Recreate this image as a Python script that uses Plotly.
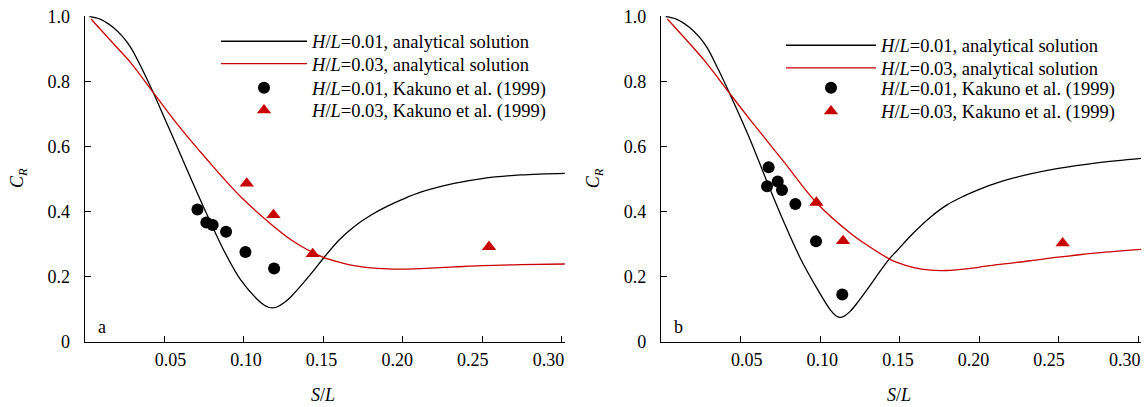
import plotly.graph_objects as go

# ---------------- data ----------------
# panel a
a_x_h01 = [0.003, 0.010, 0.018, 0.024, 0.029, 0.035, 0.0426, 0.050, 0.0562, 0.0667, 0.0772, 0.0876,
           0.0981, 0.1086, 0.113, 0.1155, 0.118, 0.1205, 0.126, 0.130, 0.137, 0.1442, 0.1505, 0.160,
           0.1694, 0.1799, 0.1904, 0.1998, 0.2113, 0.2323, 0.2499, 0.2742, 0.302]
a_y_h01 = [1.000, 0.992, 0.967, 0.938, 0.905, 0.850, 0.772, 0.690, 0.621, 0.503, 0.388, 0.280,
           0.190, 0.130, 0.112, 0.106, 0.104, 0.106, 0.122, 0.140, 0.178, 0.220, 0.259, 0.313,
           0.354, 0.389, 0.417, 0.438, 0.460, 0.487, 0.502, 0.513, 0.518]
a_x_h03 = [0.004, 0.0184, 0.029, 0.0426, 0.0562, 0.0772, 0.0981, 0.1191, 0.1300, 0.1401, 0.1505,
           0.1600, 0.1694, 0.1799, 0.1904, 0.2010, 0.2113, 0.2323, 0.2499, 0.2742, 0.302]
a_y_h03 = [0.993, 0.915, 0.858, 0.770, 0.682, 0.559, 0.446, 0.354, 0.313, 0.283, 0.259,
           0.245, 0.234, 0.227, 0.224, 0.2235, 0.225, 0.230, 0.234, 0.237, 0.239]
a_exp_x_h01 = [0.0709, 0.0765, 0.0805, 0.0889, 0.1011, 0.1191]
a_exp_y_h01 = [0.407, 0.367, 0.359, 0.338, 0.276, 0.225]
a_exp_x_h03 = [0.1019, 0.1187, 0.1434, 0.2543]
a_exp_y_h03 = [0.487, 0.390, 0.270, 0.292]

# panel b
b_x_h01 = [0.003, 0.010, 0.018, 0.024, 0.029, 0.036, 0.0435, 0.050, 0.0562, 0.0667, 0.0772, 0.0876,
           0.0981, 0.1065, 0.1100, 0.1124, 0.1150, 0.1191, 0.1240, 0.1296, 0.1365, 0.1435, 0.1484,
           0.1589, 0.1694, 0.1799, 0.1904, 0.1998, 0.2113, 0.2323, 0.2499, 0.2742, 0.302]
b_y_h01 = [1.000, 0.992, 0.967, 0.938, 0.905, 0.838, 0.760, 0.690, 0.620, 0.492, 0.369, 0.257,
           0.164, 0.098, 0.080, 0.075, 0.078, 0.094, 0.123, 0.160, 0.208, 0.254, 0.280,
           0.335, 0.383, 0.421, 0.448, 0.468, 0.489, 0.516, 0.533, 0.550, 0.564]
b_x_h03 = [0.004, 0.0184, 0.029, 0.0435, 0.0562, 0.0772, 0.0981, 0.1191, 0.1300, 0.1435, 0.1484,
           0.1589, 0.1694, 0.1799, 0.1904, 0.1998, 0.2113, 0.2323, 0.2499, 0.2742, 0.302]
b_y_h03 = [0.993, 0.915, 0.855, 0.762, 0.682, 0.554, 0.426, 0.334, 0.296, 0.255, 0.244,
           0.228, 0.220, 0.219, 0.223, 0.229, 0.237, 0.249, 0.260, 0.273, 0.284]
b_exp_x_h01 = [0.0677, 0.0667, 0.0734, 0.0761, 0.0845, 0.0975, 0.1140]
b_exp_y_h01 = [0.537, 0.478, 0.493, 0.467, 0.424, 0.309, 0.145]
b_exp_x_h03 = [0.0977, 0.1145, 0.2526]
b_exp_y_h03 = [0.428, 0.310, 0.303]

x_tick_vals = [0.05, 0.10, 0.15, 0.20, 0.25, 0.30]
x_tick_text = ["0.05", "0.10", "0.15", "0.20", "0.25", "0.30"]
y_tick_vals = [0, 0.2, 0.4, 0.6, 0.8, 1.0]
y_tick_text = ["0", "0.2", "0.4", "0.6", "0.8", "1.0"]

legend_names = ["<i>H</i>/<i>L</i>=0.01, analytical solution",
                "<i>H</i>/<i>L</i>=0.03, analytical solution",
                "<i>H</i>/<i>L</i>=0.01, Kakuno et al. (1999)",
                "<i>H</i>/<i>L</i>=0.03, Kakuno et al. (1999)"]
panel_labels = ["a", "b"]

# ---------------- styling ----------------
W, H = 1147, 407
FONT = "Liberation Serif"
RED = "#c80000"
BLACK = "#000000"


def px_x(p):
    return p / W


def px_y(p):
    return 1 - p / H


fig = go.Figure()

panels = [
    dict(series=(a_x_h01, a_y_h01, a_x_h03, a_y_h03, a_exp_x_h01, a_exp_y_h01, a_exp_x_h03, a_exp_y_h03),
         xa="x", ya="y", xl="x3", legends=["legend", "legend2", "legend3", "legend4"]),
    dict(series=(b_x_h01, b_y_h01, b_x_h03, b_y_h03, b_exp_x_h01, b_exp_y_h01, b_exp_x_h03, b_exp_y_h03),
         xa="x2", ya="y2", xl="x4", legends=["legend5", "legend6", "legend7", "legend8"]),
]
for p in panels:
    x1, y1, x3, y3, ex1, ey1, ex3, ey3 = p["series"]
    xa, ya, lg = p["xa"], p["ya"], p["legends"]
    fig.add_trace(go.Scatter(x=x1, y=y1, mode="lines", name=legend_names[0],
                             line=dict(color=BLACK, width=1.3, shape="spline", smoothing=1.0),
                             xaxis=xa, yaxis=ya, legend=lg[0]))
    fig.add_trace(go.Scatter(x=x3, y=y3, mode="lines", name=legend_names[1],
                             line=dict(color=RED, width=1.3, shape="spline", smoothing=1.0),
                             xaxis=xa, yaxis=ya, legend=lg[1]))
    fig.add_trace(go.Scatter(x=ex1, y=ey1, mode="markers", name=legend_names[2],
                             marker=dict(color=BLACK, size=12, symbol="circle"),
                             xaxis=xa, yaxis=ya, legend=lg[2]))
    fig.add_trace(go.Scatter(x=ex3, y=ey3, mode="markers", name=legend_names[3],
                             marker=dict(color=RED, size=12.5, symbol="triangle-up"),
                             xaxis=xa, yaxis=ya, legend=lg[3]))
    # empty trace that only registers the label-carrying overlay axis
    fig.add_trace(go.Scatter(x=[], y=[], mode="markers", showlegend=False, hoverinfo="skip",
                             xaxis=p["xl"], yaxis=ya))

ydom = [px_y(341.7), px_y(15.7)]
xdom1 = [px_x(84.7), px_x(564.9)]
xdom2 = [px_x(661.0), px_x(1141.2)]
XRANGE = [0, 0.302]
# the printed tick labels in the original sit on a slightly tighter spacing than the tick marks
LABEL_RANGE = [-0.00668, 0.3109]

tickfont = dict(family=FONT, size=18, color="black")
xcommon = dict(range=XRANGE, showline=True, linecolor="black", linewidth=1.3,
               ticks="inside", ticklen=6, tickwidth=1.3, tickcolor="black",
               tickvals=x_tick_vals, showticklabels=False, showgrid=False, zeroline=False,
               automargin=False, fixedrange=True)
xlabels = dict(range=LABEL_RANGE, showline=False, ticks="", showgrid=False, zeroline=False,
               tickvals=x_tick_vals, ticktext=x_tick_text, tickfont=tickfont,
               ticklabelstandoff=5, automargin=False, fixedrange=True, ticklabeloverflow="allow",
               side="bottom")
ycommon = dict(range=[0, 1.003], domain=ydom, showline=True, linecolor="black", linewidth=1.3,
               ticks="inside", ticklen=6, tickwidth=1.3, tickcolor="black",
               tickvals=y_tick_vals, ticktext=y_tick_text, showgrid=False, zeroline=False,
               tickfont=tickfont, ticklabelstandoff=10, automargin=False, fixedrange=True)

legend_common = dict(font=dict(family=FONT, size=18.5, color="black"), bgcolor="rgba(0,0,0,0)",
                     borderwidth=0, xanchor="left", yanchor="middle",
                     tracegroupgap=0, itemsizing="trace")

# legend rows (y centre of each row, in pixels)
rows_a = [41.7, 64.0, 88.3, 110.7]
rows_b = [45.7, 68.3, 88.3, 111.7]
legend_layout = {}
for i, yc in enumerate(rows_a):
    key = "legend" if i == 0 else f"legend{i + 1}"
    legend_layout[key] = dict(x=px_x(216), y=px_y(yc), itemwidth=86, **legend_common)
for i, yc in enumerate(rows_b):
    key = f"legend{i + 5}"
    legend_layout[key] = dict(x=px_x(781), y=px_y(yc), itemwidth=90, **legend_common)

fig.update_layout(
    width=W, height=H, margin=dict(l=0, r=0, t=0, b=0, autoexpand=False),
    paper_bgcolor="white", plot_bgcolor="white",
    font=dict(family=FONT, size=18, color="black"),
    xaxis=dict(domain=xdom1, anchor="y", **xcommon),
    yaxis=dict(anchor="x", **ycommon),
    xaxis2=dict(domain=xdom2, anchor="y2", **xcommon),
    yaxis2=dict(anchor="x2", **ycommon),
    xaxis3=dict(domain=xdom1, anchor="y", overlaying="x", **xlabels),
    xaxis4=dict(domain=xdom2, anchor="y2", overlaying="x2", **xlabels),
    showlegend=True,
    **legend_layout,
)

annotations = []
for i, xoff in enumerate([0.0, 576.3]):
    annotations.append(dict(text="<i>C</i><sub><i>R</i></sub>", x=px_x(19 + xoff), y=px_y(178),
                            xref="paper", yref="paper", showarrow=False, textangle=-90,
                            xanchor="center", yanchor="middle",
                            font=dict(family=FONT, size=18, color="black")))
    annotations.append(dict(text="<i>S</i>/<i>L</i>", x=px_x(322.5 + xoff), y=px_y(395),
                            xref="paper", yref="paper", showarrow=False,
                            xanchor="center", yanchor="middle",
                            font=dict(family=FONT, size=18, color="black")))
    annotations.append(dict(text=panel_labels[i], x=px_x(101.7 + xoff), y=px_y(326.5),
                            xref="paper", yref="paper", showarrow=False,
                            xanchor="center", yanchor="middle",
                            font=dict(family=FONT, size=18, color="black")))
fig.update_layout(annotations=annotations)

fig.write_html("out.html", config={"displayModeBar": False},
               post_script="document.body.style.margin='0px';")
